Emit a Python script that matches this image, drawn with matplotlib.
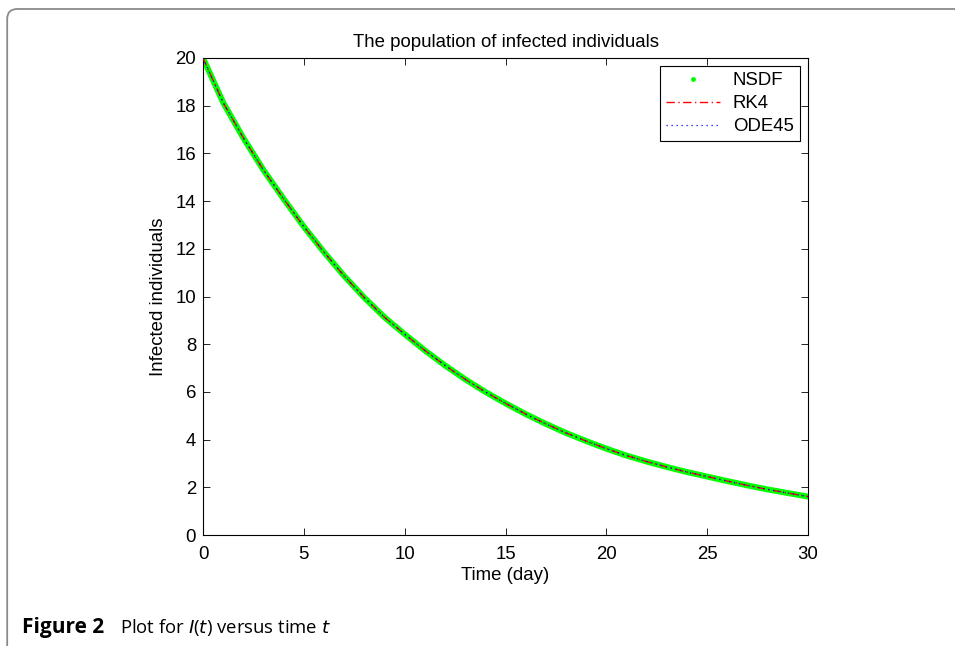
import matplotlib
matplotlib.use("Agg")
import matplotlib.pyplot as plt
from matplotlib.lines import Line2D
from matplotlib.patches import FancyBboxPatch

# ---- data ----
days = list(range(31))
nsdf = [20.00, 18.13, 16.65, 15.30, 14.09, 12.93, 11.86, 10.86, 9.95, 9.13,
        8.42, 7.74, 7.11, 6.53, 6.00, 5.52, 5.07, 4.66, 4.28, 3.94,
        3.62, 3.33, 3.08, 2.85, 2.64, 2.45, 2.26, 2.08, 1.91, 1.76, 1.61]
rk4 = list(nsdf)
ode45 = list(nsdf)
series_labels = ["NSDF", "RK4", "ODE45"]
xticks = [0, 5, 10, 15, 20, 25, 30]
yticks = [0, 2, 4, 6, 8, 10, 12, 14, 16, 18, 20]

plt.rcParams['font.family'] = ['Liberation Sans', 'DejaVu Sans']
FS = 13.4

fig = plt.figure(figsize=(9.55, 6.46), dpi=100)
ax = fig.add_axes([203/955, 1-535/646, (808-203)/955, (535-58)/646])

green = '#00ff00'
rk_ls = (0, (6, 2.5, 1, 2.5))
ode_ls = (0, (1, 3))
ax.plot(days, nsdf, color=green, lw=4.3, solid_capstyle='round', zorder=2)
ax.plot(days, rk4, color='red', lw=1.0, ls=rk_ls, zorder=3)
ax.plot(days, ode45, color='blue', lw=0.9, ls=ode_ls, zorder=4)

ax.set_xlim(0, 30)
ax.set_ylim(0, 20)
ax.set_xticks(xticks)
ax.set_yticks(yticks)
ax.tick_params(direction='in', top=True, right=True, length=5, width=0.6,
               labelsize=FS, colors='black')
ax.tick_params(axis='x', pad=8)
ax.tick_params(axis='y', pad=5)
for s in ax.spines.values():
    s.set_linewidth(0.8)

ax.set_title("The population of infected individuals", fontsize=FS, pad=8)
ax.set_xlabel("Time (day)", fontsize=FS, labelpad=3)
ax.set_ylabel("Infected individuals", fontsize=FS, labelpad=6)

handles = [
    Line2D([], [], color=green, marker='.', ls='none', markersize=5),
    Line2D([], [], color='red', lw=1.0, ls=rk_ls),
    Line2D([], [], color='blue', lw=0.9, ls=ode_ls),
]
leg = ax.legend(handles, series_labels, loc='upper right', fontsize=FS,
                handlelength=2.9, fancybox=False, framealpha=1,
                edgecolor='black', borderaxespad=0.45, labelspacing=0.32,
                handletextpad=0.7, borderpad=0.32)
leg.get_frame().set_linewidth(0.8)

# page frame with rounded top-left corner
frame = FancyBboxPatch((0.072, -1.0), 10.5, 6.37 + 1.0,
                       boxstyle="round,pad=0,rounding_size=0.1",
                       transform=fig.dpi_scale_trans, fill=False,
                       edgecolor='#8a8a8a', lw=1.3, clip_on=False)
fig.patches.append(frame)

# caption
fig.text(22/955, 1-628/646, "Figure 2", fontsize=15, fontweight='bold',
         family=['Open Sans', 'DejaVu Sans'], va='center', ha='left')
fig.text(120/955, 1-628/646, r"Plot for $\mathit{I}$($\mathit{t}$) versus time $\mathit{t}$",
         fontsize=13.3, family=['Open Sans', 'DejaVu Sans'], va='center', ha='left')

fig.savefig("out.png", dpi=100)
